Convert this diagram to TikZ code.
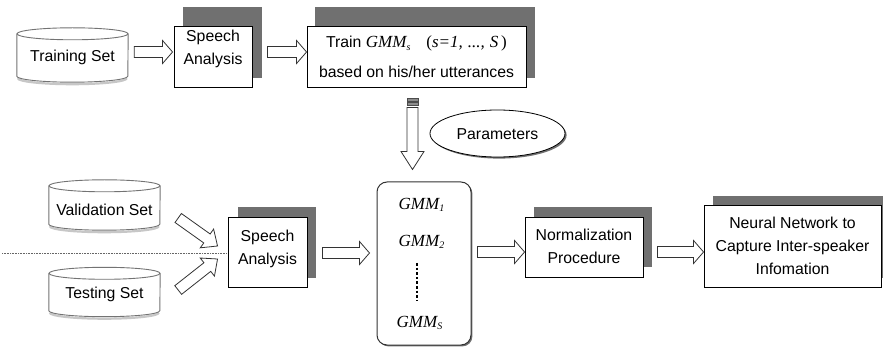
\documentclass[tikz,border=0pt]{standalone}
\usepackage{fontspec}
\setmainfont{Liberation Sans}
\newfontfamily\tnr{Liberation Serif}
\usetikzlibrary{calc,shapes.geometric,backgrounds}

\definecolor{boxshade}{gray}{0.44}
\definecolor{rim}{gray}{0.45}
\definecolor{softshade}{gray}{0.78}

% centred block of lines, lifted by #1 relative to the node centre
\newcommand\lines[2]{\raisebox{#1}[0pt][0pt]{\begin{tabular}{@{}c@{}}#2\end{tabular}}}
% italic GMM label with a small subscript
\newcommand\gmm[1]{{\tnr\fontsize{17}{20}\selectfont\itshape GMM\raisebox{-2.5pt}{\fontsize{10}{10}\selectfont #1}}}

% hollow block arrow from #2 (tail) to #3 (tip); optional head length
\newcommand\blockarrow[3][10]{%
  \draw[hollow] let \p1=#2, \p2=#3,
      \n1={atan2((\y2)-(\y1),(\x2)-(\x1))},
      \n2={veclen((\x2)-(\x1),(\y2)-(\y1))},
      \n3={\n2-#1pt} in
    {[shift={(\p1)}, rotate=\n1]
      (0pt,5.5pt) -- (\n3,5.5pt) -- (\n3,11.5pt) -- (\n2,0pt)
      -- (\n3,-11.5pt) -- (\n3,-5.5pt) -- (0pt,-5.5pt) -- cycle};%
}

% data-store cylinder drawn round a named node
\newcommand\cylinder[1]{%
  \draw[cylshade] ($(#1.south west)+(1,-4)$)
     arc[start angle=180,end angle=360,x radius=54.5pt,y radius=6pt];
  \draw[cylrim] ($(#1.north west)+(0,6)$) -- ($(#1.south west)+(0,-6)$)
     arc[start angle=180,end angle=360,x radius=55.5pt,y radius=6pt]
     -- ($(#1.north east)+(0,6)$);
  \draw[cylrim] ($(#1.north)+(0,6)$) ellipse[x radius=55.5pt,y radius=6pt];
}

\begin{document}
\begin{tikzpicture}[x=1pt,y=-1pt,
  font=\fontsize{15.8}{23}\selectfont,
  front/.style={draw=black, line width=0.9pt, fill=white, inner sep=0pt},
  cylnode/.style={minimum width=111, minimum height=#1, inner sep=0pt},
  cylrim/.style={draw=rim, line width=0.9pt},
  cylshade/.style={draw=softshade, line width=2.2pt},
  hollow/.style={draw=black!80, line width=0.8pt, fill=white, line join=miter},
  stripe/.style={draw=black!70, fill=black!45, line width=0.6pt},
  dropshade/.style={preaction={fill=boxshade, transform canvas={xshift=#1, yshift=-#1}}},
  sepline/.style={draw=black!60, line width=0.8pt, dash pattern=on 0.8pt off 0.8pt},
  dotline/.style={draw=black, line width=2.6pt, dash pattern=on 2.6pt off 2pt}]
\useasboundingbox (0,0) rectangle (883,347);

% --- training branch
\node[cylnode=54] (train) at (72.5,55) {\lines{-5.85pt}{Training Set}};
\node[front, minimum width=78, minimum height=61] (sa1) at (213,56.5)
  {\lines{4.65pt}{Speech\\Analysis}};
\node[front, minimum width=219, minimum height=61] (trn) at (416.5,56.5)
  {\lines{-5.35pt}{Train \gmm{s}\hspace{16pt}{\tnr\fontsize{17}{20}\selectfont(\textit{s=1,\hspace{5pt}...,\hspace{5pt}S\,})}\\[7pt]
   based on his/her utterances}};
\node[ellipse, draw=black, line width=0.8pt, fill=white, dropshade=1.6pt,
      minimum width=135, minimum height=47, inner sep=0pt] (par) at (497.5,133.5)
  {\lines{-5.35pt}{Parameters}};

% --- model bank
\node[draw=black!80, line width=1pt, rounded corners=10pt, fill=white, dropshade=1.4pt,
      minimum width=94, minimum height=163] (gmm) at (424,263.5) {};
\node (g1) at (421.5,205) {\gmm{1}};
\node (g2) at (421.5,242) {\gmm{2}};
\node (gS) at (419.5,323) {\gmm{S}};
\draw[dotline] ($(g2)+(-4.5,21)$) -- ($(gS)+(-2.5,-23)$);

% --- evaluation branch
\node[cylnode=50] (val) at (104.5,205) {\lines{-9.85pt}{Validation Set}};
\node[cylnode=49] (test) at (104.5,292) {\lines{-5.35pt}{Testing Set}};
\node[front, minimum width=79, minimum height=70] (sa2) at (267.5,252)
  {\lines{-0.35pt}{Speech\\Analysis}};
\node[front, minimum width=118, minimum height=60] (norm) at (584,247)
  {\lines{-4.35pt}{Normalization\\Procedure}};
\node[front, minimum width=177, minimum height=82] (nn) at (792.5,246)
  {\lines{-4.35pt}{Neural Network to\\Capture Inter-speaker\\Infomation}};

\cylinder{train}
\cylinder{val}
\cylinder{test}

% separator between validation and testing data
\coordinate (sepstart) at (2,253);
\draw[sepline] (sepstart) -- (sepstart -| sa2.west);

% --- flow arrows
\blockarrow{($(train.east)+(6,-3)$)}{($(sa1.west)+(-1,-4.5)$)}
\blockarrow{($(sa1.east)+(15,-4.5)$)}{($(trn.west)+(0,-4.5)$)}
\blockarrow[18]{($(trn.south)+(-4,20)$)}{($(gmm.north)+(-11.5,-12)$)}
\draw[stripe] ($(trn.south)+(-9.5,11)$) rectangle +(11,3);
\draw[stripe] ($(trn.south)+(-9.5,15)$) rectangle +(11,3);
\blockarrow[13]{($(val.east)+(18,13)$)}{($(sa2.west)+(-10,-6)$)}
\blockarrow[13]{($(test.east)+(18,-2)$)}{($(sa2.west)+(-10,7)$)}
\blockarrow{($(sa2.east)+(15,1)$)}{($(gmm.west)+(-7,-10.5)$)}
\blockarrow{($(gmm.east)+(6,-11.5)$)}{($(norm.west)+(0,5)$)}
\blockarrow{($(norm.east)+(14,5)$)}{($(nn.west)+(0,6)$)}

% --- offset shadows behind the process boxes
\begin{scope}[on background layer]
  \fill[white] (0,0) rectangle (883,347);
  \fill[boxshade] ($(sa1.north west)+(9,-19)$) rectangle ($(sa1.south east)+(10,-9)$);
  \fill[boxshade] ($(trn.north west)+(8,-19)$) rectangle ($(trn.south east)+(9,-9)$);
  \fill[boxshade] ($(sa2.north west)+(10,-10)$) rectangle ($(sa2.south east)+(9,-9)$);
  \fill[boxshade] ($(norm.north west)+(9,-10)$) rectangle ($(norm.south east)+(9,-10)$);
  \fill[boxshade] ($(nn.north west)+(9,-9)$) rectangle ($(nn.south east)+(9,-9)$);
\end{scope}
\end{tikzpicture}
\end{document}
